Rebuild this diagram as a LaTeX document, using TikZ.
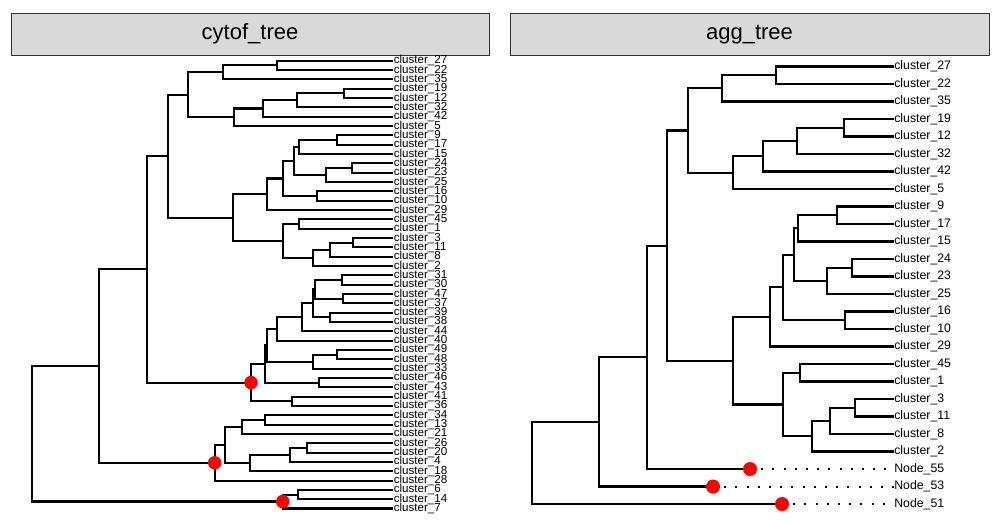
\documentclass[tikz,border=0pt]{standalone}
\usepackage{fontspec}
\setmainfont{Liberation Sans}
\usetikzlibrary{calc}
\definecolor{stripfill}{HTML}{D9D9D9}
\definecolor{stripline}{HTML}{333333}
\newcommand\dnode[4]{%
  \path let \p1=($(#3)!.5!(#4)$) in (#2pt,\y1) coordinate (#1);
  \draw[branch] (#3) -| (#1) |- (#4);}
\begin{document}
\begin{tikzpicture}[x=1pt,y=-1pt,
  branch/.style={line width=2.1pt,black,line join=miter},
  leafl/.style={anchor=west,inner sep=0.6pt,font=\fontsize{11.6}{12}\selectfont},
  leafr/.style={anchor=west,inner sep=0.6pt,font=\fontsize{12.3}{13}\selectfont},
  strip/.style={draw=stripline,fill=stripfill,line width=0.9pt},
  title/.style={font=\fontsize{22}{26}\selectfont},
  reddot/.style={circle,fill=red,inner sep=0pt,minimum size=13.5pt},
  dotline/.style={line width=2pt,dash pattern=on 2pt off 9.2pt}]
\useasboundingbox (0,0) rectangle (1000,524);
% strips
\draw[strip] (11,13.3) rectangle (489.3,55);
\draw[strip] (510,13.3) rectangle (989,55);
\node[title] (t1) at (250,34.2) {cytof\_tree};
\node[title] (t2) at (749.5,34.2) {agg\_tree};
% ---------- left tree leaves
\foreach \lab [count=\i from 0] in {27,22,35,19,12,32,42,5,9,17,15,24,23,25,16,10,29,45,1,3,11,8,2,31,30,47,37,39,38,44,40,49,48,33,46,43,41,36,34,13,21,26,20,4,18,28,6,14,7}{
  \coordinate (l\i) at (393,{60.7+9.33*\i});
  \node[leafl] (L\i) at (l\i) {cluster\_\lab};
}
\dnode{a1}{276.7}{l0}{l1}
\dnode{a2}{222.7}{a1}{l2}
\dnode{b1}{344.3}{l3}{l4}
\dnode{b2}{296.7}{b1}{l5}
\dnode{b3}{263.3}{b2}{l6}
\dnode{b4}{234}{b3}{l7}
\dnode{ab}{188.3}{a2}{b4}
\dnode{c1}{337.3}{l8}{l9}
\dnode{c2}{299.3}{c1}{l10}
\dnode{c3}{351.7}{l11}{l12}
\dnode{c4}{326}{c3}{l13}
\dnode{c5}{294.3}{c2}{c4}
\dnode{c6}{316.7}{l14}{l15}
\dnode{c7}{283.3}{c5}{c6}
\dnode{c8}{266.7}{c7}{l16}
\dnode{d1}{299.3}{l17}{l18}
\dnode{d2}{353.3}{l19}{l20}
\dnode{d3}{330}{d2}{l21}
\dnode{d4}{313.3}{d3}{l22}
\dnode{d5}{283.3}{d1}{d4}
\dnode{cd}{233.3}{c8}{d5}
\dnode{topA}{167.7}{ab}{cd}
\dnode{e1}{341.7}{l23}{l24}
\dnode{e2}{343.3}{l25}{l26}
\dnode{e3}{315}{e1}{e2}
\dnode{e4}{330}{l27}{l28}
\dnode{e5}{313.3}{e3}{e4}
\dnode{e6}{302.3}{e5}{l29}
\dnode{e7}{276.7}{e6}{l30}
\dnode{f1}{336.7}{l31}{l32}
\dnode{f2}{313.3}{f1}{l33}
\dnode{ef}{266.7}{e7}{f2}
\dnode{g1}{319}{l34}{l35}
\dnode{g2}{265}{ef}{g1}
\dnode{h1}{291.7}{l36}{l37}
\dnode{redA}{251}{g2}{h1}
\dnode{m1}{147.3}{topA}{redA}
\dnode{i1}{265}{l38}{l39}
\dnode{i2}{241.7}{i1}{l40}
\dnode{j1}{306.7}{l41}{l42}
\dnode{j2}{290}{j1}{l43}
\dnode{j3}{250}{j2}{l44}
\dnode{ij}{225}{i2}{j3}
\dnode{redB}{214.7}{ij}{l45}
\dnode{m2}{99.3}{m1}{redB}
\dnode{k1}{297.7}{l46}{l47}
\dnode{redC}{282.7}{k1}{l48}
\dnode{rootL}{32.3}{m2}{redC}
\node[reddot] (dA) at (redA) {};
\node[reddot] (dB) at (redB) {};
\node[reddot] (dC) at (redC) {};
% ---------- right tree leaves
\foreach \lab [count=\i from 0] in {cluster\_27,cluster\_22,cluster\_35,cluster\_19,cluster\_12,cluster\_32,cluster\_42,cluster\_5,cluster\_9,cluster\_17,cluster\_15,cluster\_24,cluster\_23,cluster\_25,cluster\_16,cluster\_10,cluster\_29,cluster\_45,cluster\_1,cluster\_3,cluster\_11,cluster\_8,cluster\_2,Node\_55,Node\_53,Node\_51}{
  \coordinate (r\i) at (893.5,{66.5+17.5*\i});
  \node[leafr] (R\i) at (r\i) {\lab};
}
\dnode{ra1}{776}{r0}{r1}
\dnode{ra2}{722.3}{ra1}{r2}
\dnode{rb1}{844.3}{r3}{r4}
\dnode{rb2}{796.7}{rb1}{r5}
\dnode{rb3}{762.7}{rb2}{r6}
\dnode{rb4}{732.7}{rb3}{r7}
\dnode{rab}{687.7}{ra2}{rb4}
\dnode{rc1}{836.7}{r8}{r9}
\dnode{rc2}{798.3}{rc1}{r10}
\dnode{rc3}{852}{r11}{r12}
\dnode{rc4}{826.7}{rc3}{r13}
\dnode{rc5}{794}{rc2}{rc4}
\dnode{rc6}{845}{r14}{r15}
\dnode{rc7}{782.7}{rc5}{rc6}
\dnode{rc8}{770}{rc7}{r16}
\dnode{rd1}{800}{r17}{r18}
\dnode{rd2}{855}{r19}{r20}
\dnode{rd3}{830}{rd2}{r21}
\dnode{rd4}{812}{rd3}{r22}
\dnode{rd5}{783}{rd1}{rd4}
\dnode{rcd}{732.7}{rc8}{rd5}
\dnode{rtop}{667.3}{rab}{rcd}
\coordinate (n55) at (750,{66.5+17.5*23});
\coordinate (n53) at (713,{66.5+17.5*24});
\coordinate (n51) at (782,{66.5+17.5*25});
\dnode{rt2}{646.7}{rtop}{n55}
\dnode{rt3}{599}{rt2}{n53}
\dnode{rootR}{531.7}{rt3}{n51}
\draw[dotline] (n55) -- (r23);
\draw[dotline] (n53) -- (r24);
\draw[dotline] (n51) -- (r25);
\node[reddot,minimum size=14pt] (d55) at (n55) {};
\node[reddot,minimum size=14pt] (d53) at (n53) {};
\node[reddot,minimum size=14pt] (d51) at (n51) {};
\end{tikzpicture}
\end{document}
